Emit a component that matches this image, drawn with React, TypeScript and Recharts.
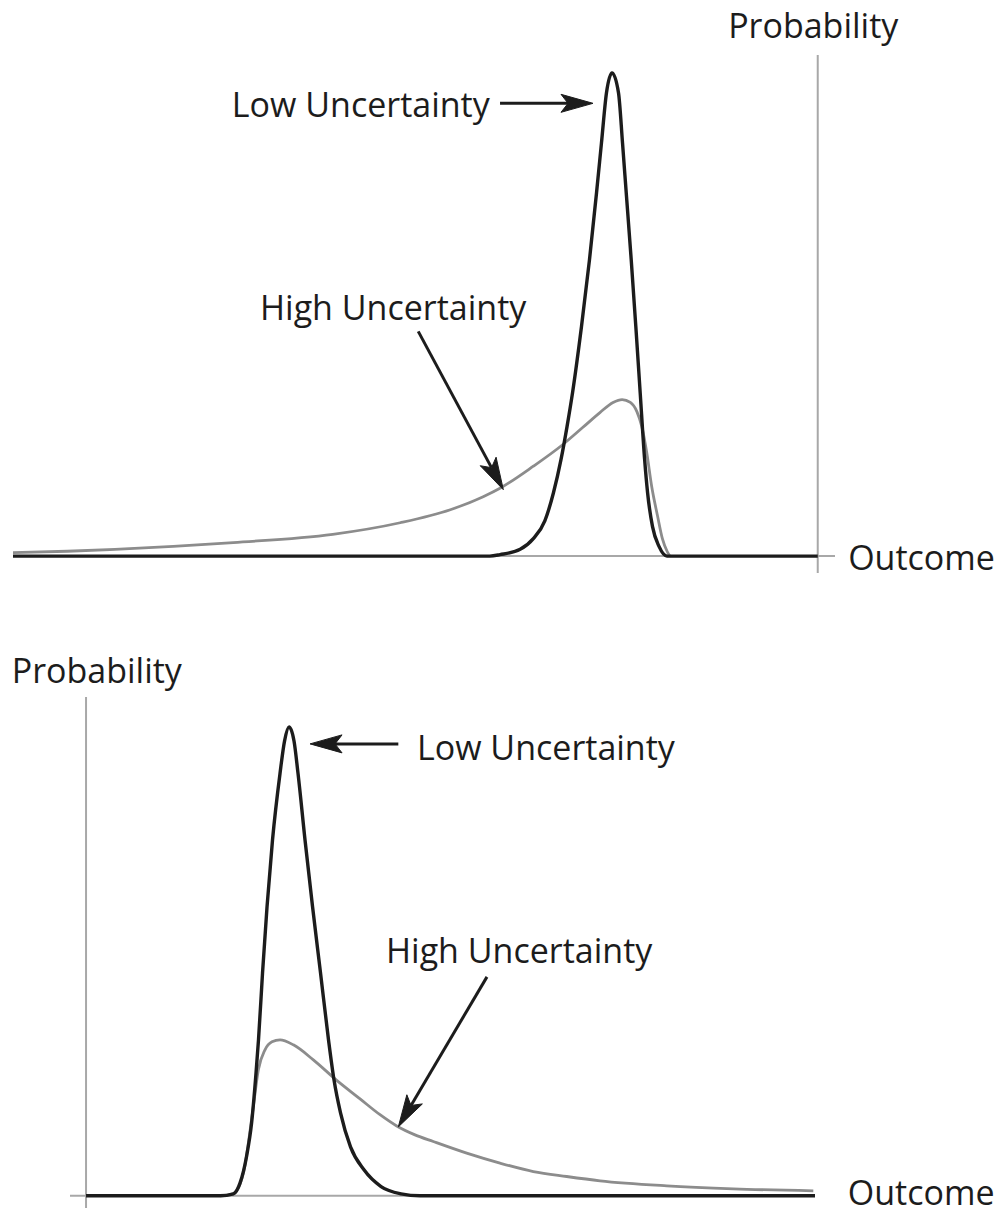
import React from 'react';
import { LineChart, Line, XAxis, YAxis, ReferenceLine, ReferenceDot } from 'recharts';

const FONT = '"Open Sans", sans-serif';
const INK = '#1c1c1c';
const GREY_CURVE = '#8c8c8c';
const AXIS = '#a8a8a8';

// ---- top panel (peaks on the right) ----
const topLowX = [0, 58.0, 59.25, 61.7, 63.3, 64.7, 65.75, 66.67, 67.4, 68.07, 69.16, 70.13, 70.99, 71.59, 72.2, 72.87, 73.66, 74.15, 74.6, 75.21, 75.77, 76.3, 76.84, 77.2, 77.8, 78.59, 79.56, 97.9];
const topLowY = [0, 0, 0.3, 1.4, 3.6, 7.3, 13.1, 20.0, 26.8, 33.8, 47.5, 61.3, 75.2, 85.5, 95.9, 100, 95.9, 85.5, 75.2, 61.3, 47.5, 33.8, 20.0, 13.1, 6.1, 2.0, 0, 0];
const topHighX = [0, 6.6, 19.5, 26.8, 38.9, 47.1, 53.2, 57.2, 59.3, 63.3, 66.9, 69.3, 71.4, 73.0, 74.1, 75.1, 75.9, 76.5, 77.1, 77.7, 78.4, 79.0, 79.6, 79.9];
const topHighY = [0.7, 1.0, 2.0, 2.8, 4.5, 6.9, 9.6, 12.3, 14.1, 18.6, 23.1, 26.6, 29.7, 31.8, 32.4, 31.8, 29.9, 26.8, 21.4, 14.4, 8.4, 3.6, 0.9, 0];

// ---- bottom panel (peaks on the left) ----
const botLowX = [0, 18.38, 20.21, 21.12, 22.02, 22.71, 23.32, 23.66, 24.21, 24.83, 25.58, 26.61, 27.23, 27.85, 28.53, 29.08, 30.04, 31.07, 32.17, 33.26, 34.02, 34.91, 36.28, 38.13, 40.47, 43.21, 45.82, 100];
const botLowY = [0, 0, 0.43, 2.7, 8.4, 15.5, 26.2, 33.3, 47.5, 61.7, 75.9, 90.1, 97.0, 100, 97.0, 90.1, 75.9, 61.7, 47.5, 33.3, 24.7, 17.7, 10.45, 5.54, 1.98, 0.43, 0, 0];
const botHighX = [18.38, 20.21, 21.58, 22.95, 23.64, 24.55, 25.51, 26.61, 28.44, 31.18, 34.39, 37.59, 40.33, 42.62, 45.13, 47.64, 52.22, 56.79, 61.36, 65.94, 70.51, 79.66, 88.79, 99.77];
const botHighY = [0, 0.43, 4.84, 19.04, 26.87, 31.13, 32.84, 33.26, 32.2, 29.0, 24.63, 20.68, 17.3, 14.9, 13.0, 11.58, 9.1, 6.97, 5.18, 4.12, 3.2, 2.13, 1.49, 1.07];

// annotation text: [label, x, y, anchor]
const topTexts: [string, number, number, string][] = [
  ['Probability', 87.0, 107.2, 'start'],
  ['Outcome', 101.6, -2.8, 'start'],
  ['Low Uncertainty', 58.0, 90.8, 'end'],
  ['High Uncertainty', 30.05, 48.9, 'start'],
];
const botTexts: [string, number, number, string][] = [
  ['Probability', -10.2, 109.3, 'start'],
  ['Outcome', 104.5, -1.9, 'start'],
  ['Low Uncertainty', 45.4, 93.0, 'start'],
  ['High Uncertainty', 41.15, 49.7, 'start'],
];

// arrows: [fromX, fromY, toX, toY]
const topArrows = [
  [59.25, 93.7, 70.56, 93.7],
  [49.3, 46.5, 59.65, 13.75],
];
const botArrows = [
  [42.84, 96.4, 30.73, 96.4],
  [55.0, 46.7, 42.84, 14.7],
];

const toPoints = (xs: number[], ys: number[]) => xs.map((x, i) => ({ x, y: ys[i] }));

function ArrowShape(props: any) {
  const { x1, y1, x2, y2 } = props;
  const dx = x2 - x1;
  const dy = y2 - y1;
  const len = Math.hypot(dx, dy) || 1;
  const ux = dx / len;
  const uy = dy / len;
  const L = 32;
  const W = 9;
  const bx = x2 - ux * L;
  const by = y2 - uy * L;
  const nx = -uy;
  const ny = ux;
  const mx = x2 - ux * L * 0.78;
  const my = y2 - uy * L * 0.78;
  const pts = `${x2},${y2} ${bx + nx * W},${by + ny * W} ${mx},${my} ${bx - nx * W},${by - ny * W}`;
  return (
    <g>
      <line x1={x1} y1={y1} x2={mx} y2={my} stroke={INK} strokeWidth={3} />
      <polygon points={pts} fill={INK} stroke={INK} strokeWidth={1} strokeLinejoin="round" />
    </g>
  );
}

const textShape = (label: string, anchor: string) => (p: any) => (
  <text x={p.cx} y={p.cy} textAnchor={anchor as any} fontFamily={FONT} fontSize={34} fill={INK}>
    {label}
  </text>
);

interface PanelProps {
  top: number;
  height: number;
  margin: { top: number; right: number; bottom: number; left: number };
  xDomain: [number, number];
  yDomain: [number, number];
  yAxisAt: number;
  low: { x: number; y: number }[];
  high: { x: number; y: number }[];
  texts: [string, number, number, string][];
  arrows: number[][];
}

function Panel({ top, height, margin, xDomain, yDomain, yAxisAt, low, high, texts, arrows }: PanelProps) {
  return (
    <div style={{ position: 'absolute', left: 0, top, width: 1003, height }}>
      <LineChart width={1003} height={height} margin={margin}>
        <XAxis type="number" dataKey="x" domain={xDomain} hide allowDataOverflow />
        <YAxis type="number" dataKey="y" domain={yDomain} hide allowDataOverflow />
        <ReferenceLine y={0} stroke={AXIS} strokeWidth={2} />
        <ReferenceLine x={yAxisAt} stroke={AXIS} strokeWidth={2} />
        <Line
          data={high}
          dataKey="y"
          type="monotone"
          stroke={GREY_CURVE}
          strokeWidth={2.8}
          dot={false}
          activeDot={false}
          isAnimationActive={false}
        />
        <Line
          data={low}
          dataKey="y"
          type="monotone"
          stroke={INK}
          strokeWidth={3.4}
          dot={false}
          activeDot={false}
          isAnimationActive={false}
        />
        {arrows.map((a, i) => (
          <ReferenceLine
            key={'a' + i}
            segment={[{ x: a[0], y: a[1] }, { x: a[2], y: a[3] }]}
            shape={ArrowShape}
            ifOverflow="visible"
          />
        ))}
        {texts.map((t, i) => (
          <ReferenceDot key={'t' + i} x={t[1]} y={t[2]} r={0} ifOverflow="visible" shape={textShape(t[0], t[3])} />
        ))}
      </LineChart>
    </div>
  );
}

export default function App() {
  return (
    <div style={{ position: 'absolute', left: 0, top: 0, width: 1003, height: 1215, background: '#fff' }}>
      <Panel
        top={0}
        height={600}
        margin={{ top: 55, right: 168, bottom: 27, left: 13 }}
        xDomain={[0, 100]}
        yDomain={[-3.5, 103.7]}
        yAxisAt={97.9}
        low={toPoints(topLowX, topLowY)}
        high={toPoints(topHighX, topHighY)}
        texts={topTexts}
        arrows={topArrows}
      />
      <Panel
        top={600}
        height={615}
        margin={{ top: 97, right: 188, bottom: 7, left: 70 }}
        xDomain={[-2.2, 100]}
        yDomain={[-2.6, 106.4]}
        yAxisAt={0}
        low={toPoints(botLowX, botLowY)}
        high={toPoints(botHighX, botHighY)}
        texts={botTexts}
        arrows={botArrows}
      />
    </div>
  );
}
